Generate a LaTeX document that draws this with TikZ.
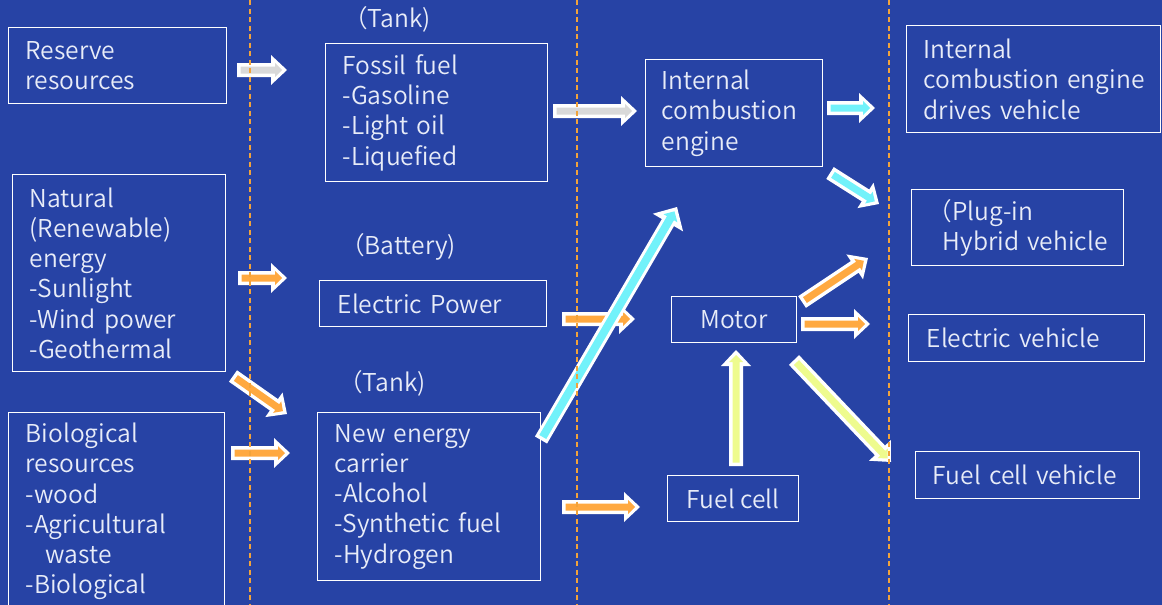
\documentclass[tikz,border=0pt]{standalone}
\usepackage{fontspec}
\setmainfont{Noto Sans CJK JP DemiLight}
\usetikzlibrary{calc}
\definecolor{bg}{HTML}{2743A5}
\definecolor{txt}{HTML}{E8ECF8}
\definecolor{dashc}{HTML}{F2A33A}
\definecolor{grayin}{HTML}{D9D9D9}
\definecolor{orangein}{HTML}{FFA940}
\definecolor{cyanin}{HTML}{72F2FA}
\definecolor{yellowin}{HTML}{EEFB8E}
\newcommand\dgfont{\fontsize{24.6}{30.2}\selectfont\hyphenpenalty=10000\exhyphenpenalty=10000\hbadness=10000\hfuzz=200pt}
% block arrow polygon: #1 tail, #2 tip, #3 shaft half width, #4 head half width, #5 head length, #6 fill
\newcommand\arrpoly[6]{%
  \fill[#6] ($(#1)!#3!90:(#2)$)
    -- ($(#2)!#5!(#1)+(#1)!#3!90:(#2)-(#1)$)
    -- ($(#2)!#5!(#1)+(#1)!#4!90:(#2)-(#1)$)
    -- (#2)
    -- ($(#2)!#5!(#1)+(#1)!#4!-90:(#2)-(#1)$)
    -- ($(#2)!#5!(#1)+(#1)!#3!-90:(#2)-(#1)$)
    -- ($(#1)!#3!-90:(#2)$) -- cycle;}
\newcommand\barrowx[9]{%
  \arrpoly{#1}{#2}{#4}{#5}{#6}{white}
  \coordinate (ia) at ($(#1)!3.5pt!(#2)$);
  \coordinate (ib) at ($(#2)!5pt!(#1)$);
  \arrpoly{ia}{ib}{#7}{#8}{#9}{#3}}
\newcommand\barrow[3]{\barrowx{#1}{#2}{#3}{7pt}{15pt}{16pt}{3.5pt}{7pt}{7pt}}
\begin{document}
\begin{tikzpicture}[x=1pt,y=-1pt,
  box/.style={draw=white, line width=1.4pt, text=txt, align=left, inner ysep=0pt, anchor=north west, font=\dgfont},
  cbox/.style={draw=white, line width=1.4pt, text=txt, align=center, inner sep=0pt, anchor=north west, font=\dgfont},
  lbl/.style={text=txt, inner sep=0pt, anchor=west, font=\dgfont},
  dashline/.style={draw=dashc, line width=1.5pt, dash pattern=on 5pt off 3.5pt}]
\useasboundingbox (0,0) rectangle (1162,605);
\clip (0,0) rectangle (1162,605);
\fill[bg] (0,0) rectangle (1162,605);

% boxes
\node[box, minimum height=76, text width=184, inner xsep=17] (reserve) at (8,27) {Reserve\\resources};
\node[box, minimum height=197, text width=179, inner xsep=17] (natural) at (12,174) {Natural\\(Renewable)\\energy\\-Sunlight\\-Wind~power\\-Geothermal};
\node[box, minimum height=222, text width=182, inner xsep=17] (bio) at (8,412) {Biological\\resources\\-wood\\-Agricultural\\\hspace*{20pt}waste\\-Biological\\\hspace*{20pt}waste};
\node[lbl] (tankA) at (343,19) {（Tank)};
\node[box, minimum height=138, text width=188, inner xsep=17] (fossil) at (325,43) {Fossil~fuel\\-Gasoline\\-Light~oil\\-Liquefied};
\node[lbl] (battery) at (340,247) {（Battery)};
\node[box, minimum height=46, text width=191, inner xsep=18] (elec) at (319,280) {Electric~Power};
\node[lbl] (tankB) at (338,383) {（Tank)};
\node[box, minimum height=168, text width=189, inner xsep=17] (newen) at (317,412) {New~energy\\carrier\\-Alcohol\\-Synthetic~fuel\\-Hydrogen};
\node[box, minimum height=107, text width=145, inner xsep=16] (ice) at (645,59) {Internal\\combustion\\engine};
\node[cbox, minimum width=125, minimum height=46] (motor) at (671,296) {Motor};
\node[cbox, minimum width=131, minimum height=46] (fuelcell) at (667,475) {Fuel~cell};
\node[box, minimum height=107, text width=220, inner xsep=17] (icev) at (906,25) {Internal\\combustion~engine\\drives~vehicle};
\node[box, minimum height=76, text width=150, inner xsep=31] (phev) at (911,189) {\hspace*{-15pt}（Plug-in\\Hybrid~vehicle};
\node[box, minimum height=47, text width=200, inner xsep=18] (ev) at (908,314) {Electric~vehicle};
\node[box, minimum height=47, text width=190, inner xsep=17] (fcv) at (915,451) {Fuel~cell~vehicle};

% arrow end points
\coordinate (resA) at (237,70);   \coordinate (resB) at (287,70);
\coordinate (fosA) at (553,111);  \coordinate (fosB) at (637,111);
\coordinate (iceA) at (827,108);  \coordinate (iceB) at (875,108);
\coordinate (iceC) at (830,173);  \coordinate (iceD) at (879,204);
\coordinate (natA) at (238,278);  \coordinate (natB) at (287,278);
\coordinate (natC) at (233,376);  \coordinate (natD) at (287,414);
\coordinate (bioA) at (231,453);  \coordinate (bioB) at (290,453);
\coordinate (elA) at (562,319);   \coordinate (elB) at (635,319);
\coordinate (neA) at (541,440);   \coordinate (neB) at (677,207);
\coordinate (neC) at (562,507);   \coordinate (neD) at (640,507);
\coordinate (fcA) at (736,466);   \coordinate (fcB) at (736,350);
\coordinate (moA) at (802,302);   \coordinate (moB) at (868,258);
\coordinate (moC) at (801,324);   \coordinate (moD) at (870,324);
\coordinate (moE) at (794,360);   \coordinate (moF) at (891,462);

% arrows
\barrow{resA}{resB}{grayin}
\barrow{fosA}{fosB}{grayin}
\barrow{iceA}{iceB}{cyanin}
\barrow{iceC}{iceD}{cyanin}
\barrow{natA}{natB}{orangein}
\barrow{natC}{natD}{orangein}
\barrow{bioA}{bioB}{orangein}
\barrow{elA}{elB}{orangein}
\barrowx{neA}{neB}{cyanin}{7pt}{17.5pt}{18pt}{4pt}{8pt}{8pt}
\barrow{neC}{neD}{orangein}
\barrow{fcA}{fcB}{yellowin}
\barrow{moA}{moB}{orangein}
\barrow{moC}{moD}{orangein}
\barrow{moE}{moF}{yellowin}

% dashed separators
\draw[dashline] (250,0) -- (250,605);
\draw[dashline] (577,0) -- (577,605);
\draw[dashline] (889,0) -- (889,605);
\end{tikzpicture}
\end{document}
